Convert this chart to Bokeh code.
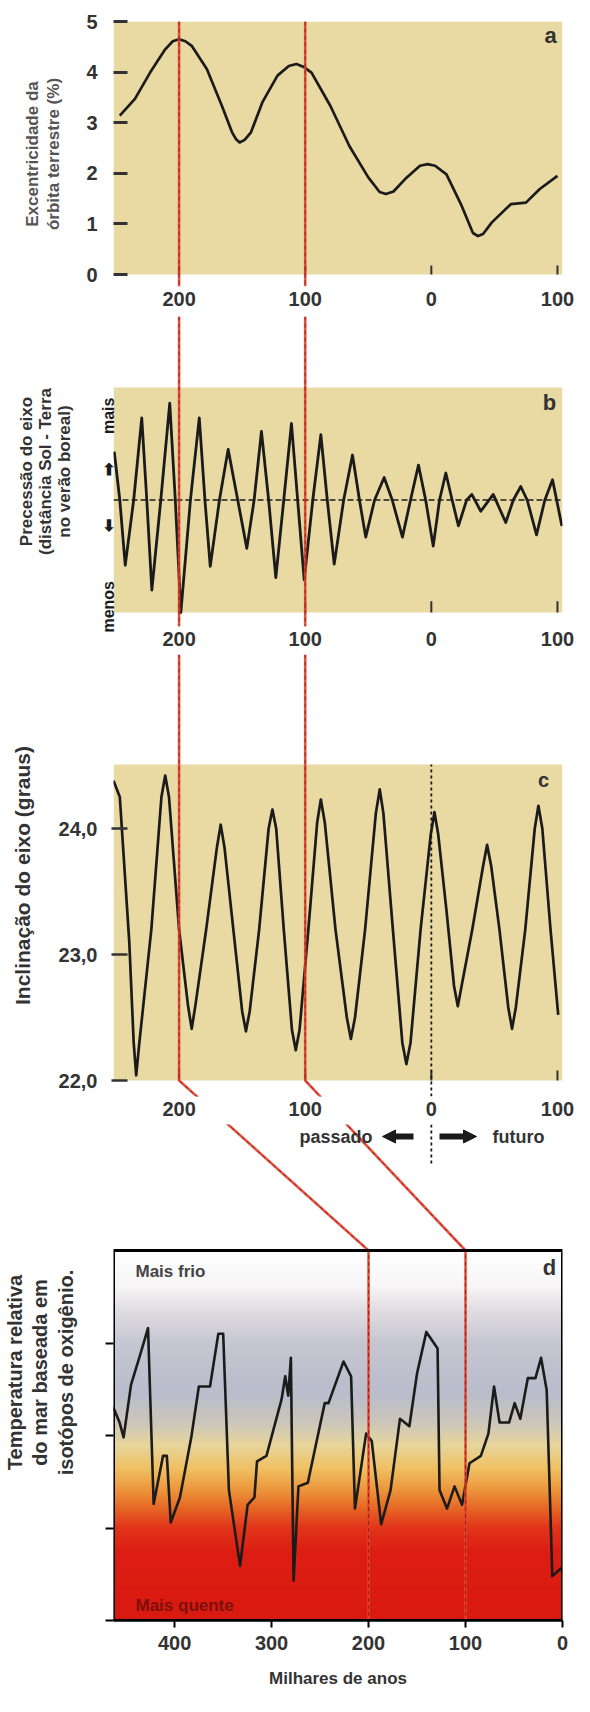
import numpy as np
from bokeh.plotting import figure
from bokeh.layouts import column
from bokeh.models import Range1d, FixedTicker, BoxAnnotation, Span, Arrow, NormalHead
from bokeh.core.properties import value
from bokeh.embed import file_html
from bokeh.resources import INLINE

# ------------------------------------------------------------------ data
# time axis of panels a-c: thousands of years, negative = past, positive = future
ticks_top = [-200, -100, 0, 100]
tick_labels_top = ["200", "100", "0", "100"]

# a) eccentricity of Earth's orbit (%)
ecc_t = [-247, -235, -223, -211, -205, -200, -195, -190, -178, -166, -158, -155, -152, -148,
         -143, -134, -122, -113, -107, -101, -95, -80, -65, -50, -41, -36, -30, -21, -9, -3,
         3, 12, 24, 33, 37, 41, 48, 63, 75, 86, 100]
ecc_v = [3.14, 3.47, 3.99, 4.45, 4.61, 4.65, 4.61, 4.52, 4.06, 3.33, 2.81, 2.68, 2.61, 2.66,
         2.81, 3.40, 3.93, 4.12, 4.16, 4.10, 3.99, 3.33, 2.54, 1.92, 1.63, 1.59, 1.64, 1.88, 2.15, 2.18,
         2.15, 1.98, 1.36, 0.82, 0.76, 0.80, 1.03, 1.39, 1.42, 1.69, 1.95]
ecc_ticks = [0, 1, 2, 3, 4, 5]

# b) precession (relative, "menos" -1 .. "mais" +1)
prec_t = [-251.4, -247, -242.7, -236, -229.6, -225.6, -221.6, -214.5, -207.4, -203,
          -198.6, -191, -184.0, -179.5, -175.3, -168, -161.1, -153.5, -146.3, -140.5,
          -134.7, -129, -123.3, -117, -110.9, -106, -100.8, -94, -87.6, -82.5,
          -77.0, -69.5, -62.5, -57, -52.0, -45, -37.4, -31, -22.9, -16.5,
          -10.2, -4.5, 1.5, 6.5, 11.5, 16.5, 21.5, 28, 32.1, 39.2,
          49.1, 59.0, 65, 70.9, 76, 83.4, 90, 96.1, 103.5]
prec_v = [0.43, 0, -0.58, 0, 0.73, 0, -0.80, 0, 0.86, 0,
          -1.0, 0, 0.73, 0, -0.59, 0, 0.45, 0, -0.43, 0,
          0.61, 0, -0.69, 0, 0.68, 0, -0.71, 0, 0.58, 0,
          -0.57, 0, 0.40, 0, -0.33, 0, 0.20, 0, -0.33, 0,
          0.31, 0, -0.41, 0, 0.24, 0, -0.23, 0, 0.05, -0.10,
          0.05, -0.20, 0, 0.12, 0, -0.31, 0, 0.18, -0.23]
prec_ticks = [0.91, 0.33, -0.17, -0.72]
prec_tick_labels = ["mais", "\u27a1", "\u2b05", "menos"]

# c) obliquity (degrees)
obl_t = [-252, -247, -239.5, -236, -234, -231.5, -222, -214, -211, -208,
         -200, -193, -190, -187, -178.5, -170, -167, -164, -157, -150,
         -147, -144, -136.5, -129, -126, -123, -117, -110.5, -107.5, -104.5,
         -97.5, -90.5, -87.6, -84.5, -76, -67, -63.8, -60.5, -52.5, -44,
         -40.9, -38, -30.5, -23, -19.8, -16.5, -8.5, -0.5, 2.5, 5.5,
         12, 18, 21, 24, 32.5, 41, 44.2, 47.5, 54, 61,
         64, 67, 74.5, 82, 84.9, 88, 94.5, 100.6]
obl_v = [24.38, 24.25, 23.1, 22.3, 22.04, 22.3, 23.2, 24.25, 24.42, 24.25,
         23.2, 22.6, 22.41, 22.6, 23.2, 23.85, 24.03, 23.85, 23.2, 22.55,
         22.39, 22.55, 23.2, 24.0, 24.15, 24.0, 23.2, 22.4, 22.24, 22.4,
         23.2, 24.05, 24.23, 24.05, 23.2, 22.5, 22.33, 22.5, 23.2, 24.12,
         24.31, 24.12, 23.2, 22.3, 22.13, 22.3, 23.2, 23.95, 24.13, 23.95,
         23.35, 22.75, 22.59, 22.75, 23.2, 23.7, 23.87, 23.7, 23.2, 22.58,
         22.41, 22.58, 23.2, 24.0, 24.18, 24.0, 23.2, 22.52]
obl_ticks = [22, 23, 24]
obl_tick_labels = ["22,0", "23,0", "24,0"]

# d) relative sea temperature from oxygen isotopes (ka before present, arbitrary units: up = colder)
temp_ka = [463.5, 456.7, 452.6, 444.9, 435.3, 427.4, 421.6, 411.9, 408, 404,
           394.5, 382.8, 375, 363.5, 354.9, 349.9, 344, 332.5, 324.7, 317.7,
           315, 305.3, 289.7, 285.9, 282.8, 280.1, 277.3, 272.3, 262.6, 245.2,
           241.3, 225.8, 218, 214, 202.5, 196.7, 187, 177.3, 167.6, 157.9,
           150, 140.4, 128.8, 126.8, 119.1, 111.3, 103.6, 95.9, 84.2, 76.4,
           70.6, 64.9, 55.1, 49.3, 43.5, 35.8, 27.9, 22.1, 16.3, 10.5, 0.8]
temp_v = [2.31, 2.14, 1.98, 2.55, 2.88, 3.16, 1.26, 1.78, 1.78, 1.06,
          1.33, 1.98, 2.53, 2.53, 3.10, 3.10, 1.41, 0.59, 1.25, 1.33,
          1.72, 1.78, 2.39, 2.64, 2.43, 2.84, 0.43, 1.45, 1.49, 2.35,
          2.35, 2.80, 2.64, 1.21, 2.02, 1.94, 1.04, 1.41, 2.18, 2.10,
          2.67, 3.12, 2.94, 1.41, 1.21, 1.45, 1.25, 1.70, 1.78, 2.02,
          2.53, 2.14, 2.14, 2.35, 2.18, 2.62, 2.62, 2.84, 2.49, 0.48, 0.57]
temp_ticks = [0, 1, 2, 3]
ka_ticks = [400, 300, 200, 100, 0]
ka_tick_labels = ["400", "300", "200", "100", "0"]

# the two moments linked by red lines (top panels / panel d)
markers_top = [-200, -100]
markers_ka = [200, 100]

# ------------------------------------------------------------------ layout helpers
FONT = "Liberation Sans"
INK = "#1b1b1b"
TXT = "#333333"
RED = "#e4412f"
RED_DARK = "#7a1a12"
BEIGE = "#e9d9a3"

FIG_W = 574
L, R = 121, 570
T0, T1 = -252.0, 104.0
KA0, KA1 = 463.0, 0.0


def lin(v, v0, p0, v1, p1):
    return p0 + (v - v0) * (p1 - p0) / (v1 - v0)


def px_t(t):
    return lin(t, T0, L, T1, R)


def t_px(px):
    return lin(px, L, T0, R, T1)


def px_ka(k):
    return lin(k, KA0, L, KA1, R)


def ka_px(px):
    return lin(px, L, KA0, R, KA1)


# vertical calibration of each panel: (value, page y, value, page y)
CAL_A = (0, 282, 5, 29)
CAL_B = (-1, 620, 1, 395)
CAL_C = (22, 1088, 24, 836)
CAL_D = (0, 1628, 4, 1258)


def val(py, cal):
    v0, p0, v1, p1 = cal
    return lin(py, p0, v0, p1, v1)


def style_axis(ax, size="20px"):
    ax.axis_line_color = None
    ax.major_tick_line_color = TXT
    ax.minor_tick_line_color = None
    ax.major_tick_in = 0
    ax.major_tick_out = 0
    ax.major_label_text_font = FONT
    ax.major_label_text_font_size = size
    ax.major_label_text_font_style = "bold"
    ax.major_label_text_color = TXT
    ax.axis_label_text_font = FONT
    ax.axis_label_text_font_style = "bold"
    ax.axis_label_text_color = TXT


def make_fig(top_px, bot_px, cal, b_top, b_bot, x_range):
    yr = Range1d(val(bot_px, cal), val(top_px, cal))
    p = figure(width=FIG_W, height=b_top + bot_px - top_px + b_bot,
               x_range=x_range, y_range=yr, output_backend="svg", toolbar_location=None,
               min_border_left=L - 8, min_border_right=FIG_W - (R - 8),
               min_border_top=b_top, min_border_bottom=b_bot)
    p.grid.visible = False
    p.outline_line_color = None
    p.background_fill_color = "white"
    p.border_fill_color = "white"
    style_axis(p.xaxis[0])
    style_axis(p.yaxis[0])
    return p


def top_xaxis(p):
    ax = p.xaxis[0]
    ax.ticker = FixedTicker(ticks=ticks_top)
    ax.major_label_overrides = dict(zip(ticks_top, tick_labels_top))
    ax.major_label_standoff = 5


def text(p, x, y, s, size, color=TXT, align="center", style="bold", angle=0.0, alpha=1.0, **kw):
    p.text(x=[x], y=[y], text=[s], angle=angle, text_font=value(FONT), text_font_size=size,
           text_font_style=style, text_color=color, text_alpha=alpha, text_align=align,
           text_baseline="middle", **kw)


def red_spans(p):
    for t in markers_top:
        p.add_layout(Span(location=t, dimension="height", line_color=RED, line_width=2.6, line_alpha=0.9))
        p.add_layout(Span(location=t, dimension="height", line_color=RED_DARK, line_width=1,
                          line_dash="4 3", line_alpha=0.8))


def red_lines(p, xs, ys, **kw):
    p.multi_line(xs=xs, ys=ys, line_color=RED, line_width=2.6, line_alpha=0.9, **kw)
    p.multi_line(xs=xs, ys=ys, line_color=RED_DARK, line_width=1, line_dash="4 3", line_alpha=0.8, **kw)


def beige(p, bottom, top):
    p.add_layout(BoxAnnotation(bottom=bottom, top=top, fill_color=BEIGE, fill_alpha=1.0,
                               line_color=None, level="underlay"))


# ------------------------------------------------------------------ panel a
pa = make_fig(29, 294, CAL_A, 21, 30, Range1d(T0, T1))
beige(pa, ecc_ticks[0], ecc_ticks[-1])
pa.segment(x0=ticks_top, y0=[0] * 4, x1=ticks_top, y1=[0.18] * 4, line_color=TXT, line_width=2)
pa.line(ecc_t, ecc_v, line_color=INK, line_width=2.7, line_join="round")
red_spans(pa)
text(pa, t_px(558), val(43, CAL_A), "a", "22px")
ya = pa.yaxis[0]
ya.ticker = FixedTicker(ticks=ecc_ticks)
ya.major_tick_in = 14
ya.major_tick_line_width = 3
ya.major_label_standoff = 16
ya.axis_label = "Excentricidade da\nórbita terrestre (%)"
ya.axis_label_text_font_size = "17px"
ya.axis_label_text_line_height = 1.1
ya.axis_label_text_color = "#555555"
ya.axis_label_standoff = 20
top_xaxis(pa)

# ------------------------------------------------------------------ panel b
pb = make_fig(324, 634, CAL_B, 0, 28, Range1d(T0, T1))
beige(pb, -1, 1)
pb.segment(x0=[T0], y0=[0], x1=[T1], y1=[0], line_color=INK, line_width=1.6, line_dash="6 3")
pb.segment(x0=ticks_top, y0=[-1] * 4, x1=ticks_top, y1=[-0.9] * 4, line_color=TXT, line_width=2)
pb.line(prec_t, prec_v, line_color=INK, line_width=2.8, line_join="round")
red_spans(pb)
text(pb, t_px(557), val(410, CAL_B), "b", "22px")
yb = pb.yaxis[0]
yb.ticker = FixedTicker(ticks=prec_ticks)
yb.major_label_overrides = dict(zip(prec_ticks, prec_tick_labels))
yb.major_label_orientation = np.pi / 2
yb.major_label_text_font_size = "16px"
yb.major_label_text_color = INK
yb.major_label_standoff = 5
yb.axis_label = "Precessão do eixo\n(distância Sol - Terra\nno verão boreal)"
yb.axis_label_text_font_size = "17px"
yb.axis_label_text_line_height = 1.0
yb.axis_label_standoff = 15
top_xaxis(pb)

# ------------------------------------------------------------------ panel c
pc = make_fig(662, 1104, CAL_C, 0, 28, Range1d(T0, T1))
c_panel_top = val(772, CAL_C)
c_frame_top = val(662, CAL_C)
beige(pc, obl_ticks[0], c_panel_top)
pc.segment(x0=ticks_top, y0=[obl_ticks[0]] * 4, x1=ticks_top, y1=[obl_ticks[0] + 0.08] * 4,
           line_color=TXT, line_width=2)
pc.segment(x0=[0], y0=[val(1104, CAL_C)], x1=[0], y1=[c_panel_top], line_color=INK,
           line_width=1.8, line_dash="3 3")
pc.line(obl_t, obl_v, line_color=INK, line_width=2.7, line_join="round")
red_lines(pc,
          [[t, t, t_px(px_ka(k))] for t, k in zip(markers_top, markers_ka)],
          [[c_frame_top, obl_ticks[0], val(1258, CAL_C)] for _ in markers_top])
text(pc, t_px(551), val(787, CAL_C), "c", "20px")
yc = pc.yaxis[0]
yc.ticker = FixedTicker(ticks=obl_ticks)
yc.major_label_overrides = dict(zip(obl_ticks, obl_tick_labels))
yc.major_tick_in = 14
yc.major_tick_out = 2
yc.major_tick_line_width = 2.5
yc.major_label_standoff = 14
yc.axis_label = "Inclinação do eixo (graus)"
yc.axis_label_text_font_size = "21px"
yc.axis_label_standoff = 22
top_xaxis(pc)

# ------------------------------------------------------------------ panel d
pdd = make_fig(1132, 1628, CAL_D, 0, 76, Range1d(KA0, KA1))
pdd.extra_x_ranges = {"c": Range1d(T0, T1)}

stops = [(1258, "#ffffff"), (1294, "#f7f5f5"), (1320, "#dedbe0"), (1350, "#c6c6d1"),
         (1402, "#b9bccb"), (1430, "#cbc6bb"), (1453, "#e7d59a"), (1476, "#efc063"),
         (1497, "#ec963b"), (1515, "#e66926"), (1535, "#e03519"), (1560, "#dc1d12"),
         (1628, "#d91a10")]


def rgb(h):
    return np.array([int(h[i:i + 2], 16) for i in (1, 3, 5)], dtype=float)


g_top, g_bot, g_col = [], [], []
for y0 in range(1258, 1628, 2):
    ym = y0 + 1
    for (ya_, ca), (yb_, cb) in zip(stops[:-1], stops[1:]):
        if ya_ <= ym <= yb_:
            f = (ym - ya_) / (yb_ - ya_)
            c = rgb(ca) * (1 - f) + rgb(cb) * f
            break
    g_col.append("#%02x%02x%02x" % tuple(int(round(v)) for v in c))
    g_top.append(val(y0, CAL_D))
    g_bot.append(val(y0 + 2.4, CAL_D))
pdd.quad(left=KA0, right=KA1, top=g_top, bottom=g_bot, fill_color=g_col, line_color=None)

pdd.add_layout(BoxAnnotation(left=KA0, right=KA1, bottom=0, top=4, fill_alpha=0.0,
                             line_color="black", line_alpha=1.0, line_width=3, level="overlay"))
text(pdd, ka_px(143), val(1279, CAL_D), "Mais frio", "17px", color="#444444", align="left")
text(pdd, ka_px(143), val(1613, CAL_D), "Mais quente", "17px", color="#5a0d0a", align="left", alpha=0.75)
pdd.line(temp_ka, temp_v, line_color=INK, line_width=2.6, line_join="round")
red_lines(pdd,
          [[ka_px(px_t(t)), k, k] for t, k in zip(markers_top, markers_ka)],
          [[val(1088, CAL_D), 4, 0] for _ in markers_ka])
text(pdd, ka_px(557), val(1275, CAL_D), "d", "22px")

# "passado <- | -> futuro" row (time axis of panels a-c)
row_y = val(1144, CAL_D)
pdd.segment(x0=[0], y0=[val(1132, CAL_D)], x1=[0], y1=[val(1172, CAL_D)], line_color=INK,
            line_width=1.8, line_dash="3 3", x_range_name="c")
text(pdd, t_px(380), row_y, "passado", "18px", align="right", x_range_name="c")
text(pdd, t_px(500), row_y, "futuro", "18px", align="left", x_range_name="c")
pdd.add_layout(Arrow(x_start=t_px(421), y_start=row_y, x_end=t_px(390), y_end=row_y,
                     line_width=6, line_color=INK, x_range_name="c",
                     end=NormalHead(size=13, fill_color=INK, line_color=INK)))
pdd.add_layout(Arrow(x_start=t_px(447), y_start=row_y, x_end=t_px(484), y_end=row_y,
                     line_width=6, line_color=INK, x_range_name="c",
                     end=NormalHead(size=13, fill_color=INK, line_color=INK)))

xd = pdd.xaxis[0]
xd.ticker = FixedTicker(ticks=ka_ticks)
xd.major_label_overrides = dict(zip(ka_ticks, ka_tick_labels))
xd.axis_line_color = "black"
xd.axis_line_width = 2.5
xd.major_tick_line_color = "black"
xd.major_tick_line_width = 2
xd.major_tick_out = 7
xd.major_label_standoff = 8
xd.axis_label = "Milhares de anos"
xd.axis_label_text_font_size = "17px"
xd.axis_label_standoff = 16

yd = pdd.yaxis[0]
yd.ticker = FixedTicker(ticks=temp_ticks)
yd.major_label_overrides = {t: "" for t in temp_ticks}
yd.major_tick_line_color = "black"
yd.major_tick_line_width = 2
yd.major_tick_out = 8
yd.major_label_standoff = 0
yd.axis_label = "Temperatura relativa\ndo mar baseada em\nisotópos de oxigênio."
yd.axis_label_text_font_size = "20px"
yd.axis_label_text_line_height = 1.15
yd.axis_label_standoff = 29

layout = column(pa, pb, pc, pdd, spacing=0)
open("out.html", "w").write(file_html(layout, INLINE))
